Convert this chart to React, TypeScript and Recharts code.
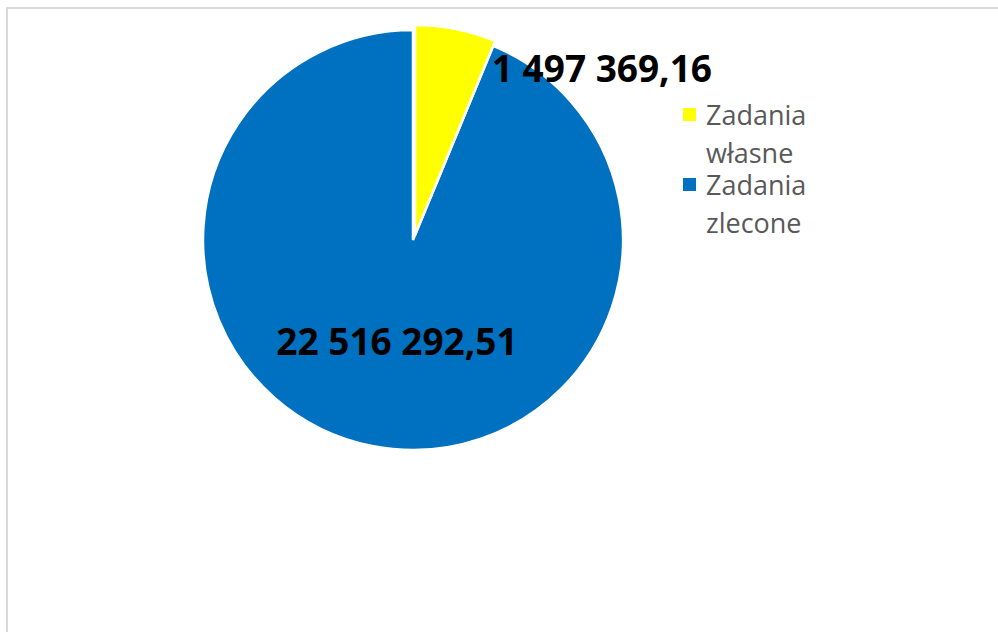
import { PieChart, Pie, Cell, Legend } from "recharts";

// dane
const names = ["Zadania własne", "Zadania zlecone"];
const values = [1497369.16, 22516292.51];
const colors = ["#ffff00", "#0070c0"];

const data = names.map((name, i) => ({ name, value: values[i] }));

const W = 998;
const H = 632;
const CX = 413;
const CY = 240;
const R = 210;

// 1 497 369,16
function fmt(v: number) {
  const [int, dec] = v.toFixed(2).split(".");
  return int.replace(/\B(?=(\d{3})+(?!\d))/g, " ") + "," + dec;
}

const labelStyle = {
  fontFamily: "'Open Sans', sans-serif",
  fontWeight: 700,
  fontSize: 37,
  fill: "#000000",
};

function renderLabel(props: any) {
  const { cx, cy, midAngle, outerRadius, index, value } = props;
  if (index === 0) {
    // etykieta wysunięta poza wycinek (jak w Excelu)
    return (
      <text
        x={cx + outerRadius * 0.89}
        y={cy - outerRadius * 0.8}
        textAnchor="middle"
        dominantBaseline="central"
        style={labelStyle}
      >
        {fmt(value)}
      </text>
    );
  }
  const RAD = Math.PI / 180;
  const r = outerRadius * 0.49;
  return (
    <text
      x={cx + r * Math.cos(-midAngle * RAD) + 4}
      y={cy + r * Math.sin(-midAngle * RAD)}
      textAnchor="middle"
      dominantBaseline="central"
      style={labelStyle}
    >
      {fmt(value)}
    </text>
  );
}

function LegendBox() {
  return (
    <div style={{ fontFamily: "'Open Sans', sans-serif", fontSize: 27, color: "#595959" }}>
      {names.map((n, i) => (
        <div
          key={n}
          style={{ display: "flex", alignItems: "flex-start", marginTop: i === 0 ? 0 : -6 }}
        >
          <div
            style={{
              width: 13,
              height: 13,
              background: colors[i],
              marginTop: 12,
              marginRight: 10,
              flexShrink: 0,
            }}
          />
          <div style={{ width: 115, lineHeight: "38px" }}>{n}</div>
        </div>
      ))}
    </div>
  );
}

export default function App() {
  return (
    <div style={{ position: "absolute", left: 0, top: 0, width: W, height: H, overflow: "hidden", background: "#fff" }}>
      <div
        style={{
          position: "absolute",
          left: 6,
          top: 7,
          width: W,
          height: H,
          borderTop: "2px solid #d9d9d9",
          borderLeft: "2px solid #d9d9d9",
        }}
      />
      <div style={{ position: "absolute", left: 0, top: 0 }}>
        <PieChart width={W} height={H} margin={{ top: 0, right: 0, bottom: 0, left: 0 }}>
          {/* zlecone */}
          <Pie
            data={data}
            dataKey="value"
            nameKey="name"
            cx={CX}
            cy={CY}
            outerRadius={R}
            startAngle={90}
            endAngle={-270}
            stroke="#ffffff"
            strokeWidth={2.5}
            label={(p: any) => (p.index === 1 ? renderLabel(p) : null)}
            labelLine={false}
            isAnimationActive={false}
          >
            {data.map((d, i) => (
              <Cell key={d.name} fill={i === 1 ? colors[1] : "none"} stroke={i === 1 ? "#ffffff" : "none"} />
            ))}
          </Pie>
          {/* własne - wysunięty wycinek */}
          <Pie
            data={data}
            dataKey="value"
            nameKey="name"
            cx={CX + 2}
            cy={CY - 5}
            outerRadius={R}
            startAngle={90}
            endAngle={-270}
            stroke="#ffffff"
            strokeWidth={2.5}
            label={(p: any) => (p.index === 0 ? renderLabel(p) : null)}
            labelLine={false}
            isAnimationActive={false}
          >
            {data.map((d, i) => (
              <Cell key={d.name} fill={i === 0 ? colors[0] : "none"} stroke={i === 0 ? "#ffffff" : "none"} />
            ))}
          </Pie>
          <Legend
            content={<LegendBox />}
            wrapperStyle={{ position: "absolute", left: 683, top: 96, width: 150 }}
          />
        </PieChart>
      </div>
    </div>
  );
}
